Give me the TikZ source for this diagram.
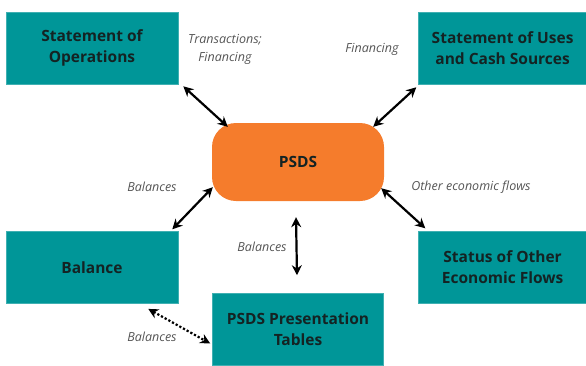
\documentclass[tikz,border=0pt]{standalone}
\usepackage{fontspec}
\setmainfont{Open Sans}
\usetikzlibrary{arrows.meta,positioning}
\definecolor{tealbox}{RGB}{0,150,152}
\definecolor{psdsorange}{RGB}{245,124,44}
\definecolor{notegray}{RGB}{85,85,85}
\definecolor{boxtext}{RGB}{20,35,35}

\begin{document}
\begin{tikzpicture}[
		x=1pt, y=-1pt,
		>={Stealth[length=10pt,width=10pt]},
		box/.style={
			fill=tealbox,
			draw=tealbox!75!white,
			line width=0.6pt,
			minimum width=172pt,
			minimum height=72pt,
			inner sep=0pt,
			align=center,
			text=boxtext,
			font=\fontsize{15.5}{21}\selectfont\bfseries
		},
		hub/.style={
			fill=psdsorange,
			rounded corners=24pt,
			minimum width=172pt,
			minimum height=78pt,
			text=boxtext,
			font=\fontsize{15.5}{21}\selectfont\bfseries
		},
		link/.style={<->, line width=2.2pt},
		note/.style={
			align=center,
			text=notegray,
			font=\fontsize{12.5}{18}\selectfont\itshape
		}
		]
		\useasboundingbox (0,0) rectangle (586,365);
		
		% PSDS in the middle
		\node[hub] (psds) at (298,162) {PSDS};
		
		% Statements on top
		\node[box] (ops) at (92,48) {Statement of\\Operations};
		\node[box, minimum width=168pt, right=240pt of ops] (uses) {Statement of Uses\\and Cash Sources};
		
		% Balance and other flows below
		\node[box, below=147pt of ops] (bal) {Balance};
		\node[box, minimum width=168pt, below=147pt of uses] (other) {Status of Other\\Economic Flows};
		
		% Presentation tables at the bottom
		\node[box, minimum width=171pt, below=92pt of psds] (tables) {PSDS Presentation\\Tables};
		
		% Links to PSDS
		\draw[link] ([shift={(5,2)}]ops.south east) -- ([shift={(16,4)}]psds.north west);
		\draw[link] ([shift={(-2,3)}]uses.south west) -- ([shift={(-11,4)}]psds.north east);
		\draw[link] ([shift={(-6,-2)}]bal.north east) -- ([shift={(1,-14)}]psds.south west);
		\draw[link] ([shift={(-3,-13)}]psds.south east) -- ([shift={(7,-3)}]other.north west);
		\draw[link] ([shift={(-2,16)}]psds.south) -- ([shift={(-1,-18)}]tables.north);
		
		% Balance to tables
		\draw[link, dotted] ([shift={(-30,5)}]bal.south east) -- ([shift={(-2,14)}]tables.west);
		
		% Flow labels
		\node[note] (n-ops) at (225,49) {Transactions;\\Financing};
		\node[note] (n-uses) at (372,49) {Financing};
		\node[note] (n-bal) at (152,187) {Balances};
		\node[note] (n-other) at (471,187) {Other economic flows};
		\node[note] (n-tab) at (262,247) {Balances};
		\node[note] (n-dot) at (152,337) {Balances};
		
		\end{tikzpicture}
\end{document}
